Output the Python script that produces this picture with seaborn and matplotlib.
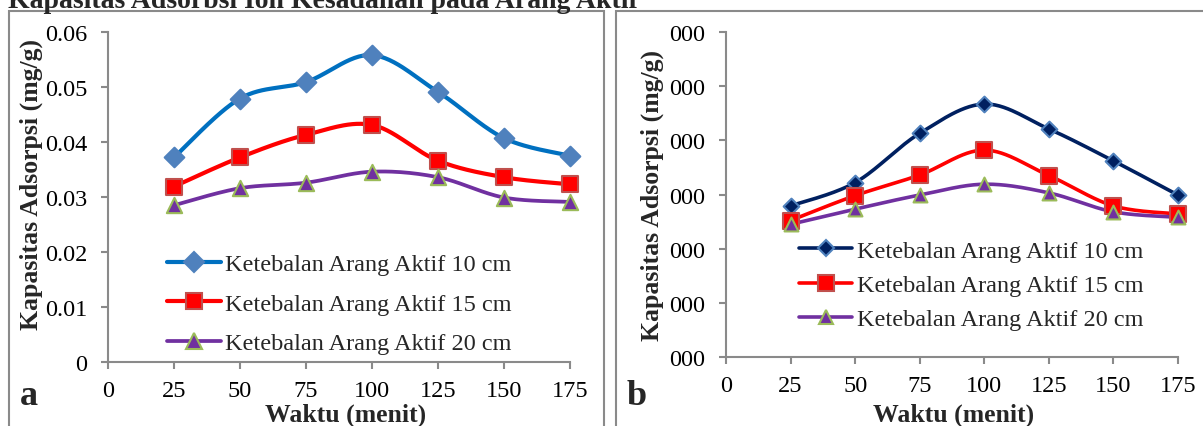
import numpy as np
import pandas as pd
import matplotlib
matplotlib.use("Agg")
import matplotlib.pyplot as plt
from matplotlib.lines import Line2D
from matplotlib.patches import Rectangle
import seaborn as sns

sns.set_theme(style="white")
plt.rcParams['font.family'] = ['Liberation Serif', 'DejaVu Serif']

# ---------------- data ----------------
waktu = [25, 50, 75, 100, 125, 150, 175]
labels = ["Ketebalan Arang Aktif 10 cm", "Ketebalan Arang Aktif 15 cm", "Ketebalan Arang Aktif 20 cm"]

a_10cm = [0.0372, 0.0479, 0.0509, 0.0558, 0.0491, 0.0407, 0.0375]
a_15cm = [0.0319, 0.0372, 0.0413, 0.0431, 0.0366, 0.0336, 0.0323]
a_20cm = [0.0285, 0.0316, 0.0326, 0.0346, 0.0336, 0.0299, 0.0291]

b_10cm = [2.79, 3.22, 4.13, 4.67, 4.21, 3.62, 2.99]
b_15cm = [2.52, 2.98, 3.36, 3.82, 3.35, 2.79, 2.64]
b_20cm = [2.45, 2.73, 2.99, 3.19, 3.03, 2.68, 2.58]

a_yticks = [0, 0.01, 0.02, 0.03, 0.04, 0.05, 0.06]
a_yticklabels = ["0", "0.01", "0.02", "0.03", "0.04", "0.05", "0.06"]
b_yticks = [0, 1, 2, 3, 4, 5, 6]
b_yticklabels = ["000", "000", "000", "000", "000", "000", "000"]
xticks = [0, 25, 50, 75, 100, 125, 150, 175]

title = "Kapasitas Adsorbsi Ion Kesadahan pada Arang Aktif"
ylabel = "Kapasitas Adsorpsi (mg/g)"
xlabel = "Waktu (menit)"


def smooth(x, y, n=30):
    """Excel-like smoothed line (Catmull-Rom style cubic Bezier)."""
    x = np.asarray(x, float)
    y = np.asarray(y, float)
    px, py = [], []
    m = len(x)
    for i in range(m - 1):
        x0, y0 = (x[i - 1], y[i - 1]) if i > 0 else (x[i], y[i])
        x3, y3 = (x[i + 2], y[i + 2]) if i + 2 < m else (x[i + 1], y[i + 1])
        p1 = np.array([x[i], y[i]])
        p2 = np.array([x[i + 1], y[i + 1]])
        c1 = p1 + (p2 - np.array([x0, y0])) / 6.0
        c2 = p2 - (np.array([x3, y3]) - p1) / 6.0
        t = np.linspace(0, 1, n, endpoint=(i == m - 2))
        b = ((1 - t) ** 3)[:, None] * p1 + (3 * (1 - t) ** 2 * t)[:, None] * c1 \
            + (3 * (1 - t) * t ** 2)[:, None] * c2 + (t ** 3)[:, None] * p2
        px.extend(b[:, 0])
        py.extend(b[:, 1])
    return np.array(px), np.array(py)


W, H = 1203, 427
fig = plt.figure(figsize=(W / 100, H / 100), dpi=100)

GRAY = "#8a8a8a"
FS = 17.5
LFS = 18.5

# panel frames
fig.patches.append(Rectangle((8.5 / W, -0.05), (604 - 8.5) / W, 1.05 - 12 / H,
                             transform=fig.transFigure, fill=False, edgecolor=GRAY, lw=1.5))
fig.patches.append(Rectangle((616 / W, -0.05), 0.5, 1.05 - 12 / H,
                             transform=fig.transFigure, fill=False, edgecolor=GRAY, lw=1.5))

fig.text(8 / W, 1 - 8 / H, title, fontsize=20, fontweight="bold", va="baseline", ha="left")

ax_a = fig.add_axes([108 / W, (H - 363) / H, 462 / W, 330 / H])
ax_b = fig.add_axes([726 / W, (H - 358) / H, 452 / W, 325 / H])

styles_a = [
    dict(line="#0070C0", lw=3.0, marker="D", ms=10, mfc="#4F81BD", mec="#4F81BD"),
    dict(line="#FF0000", lw=3.0, marker="s", ms=11, mfc="#FF0000", mec="#C0504D"),
    dict(line="#7030A0", lw=2.7, marker="^", ms=11, mfc="#7030A0", mec="#9BBB59"),
]
styles_b = [
    dict(line="#002060", lw=2.6, marker="D", ms=8, mfc="#002060", mec="#4F81BD"),
    dict(line="#FF0000", lw=2.6, marker="s", ms=11, mfc="#FF0000", mec="#C0504D"),
    dict(line="#7030A0", lw=2.6, marker="^", ms=10, mfc="#7030A0", mec="#9BBB59"),
]


def draw(ax, series, styles, yticks, yticklabels, leg_anchor, labelspacing):
    for vals, st in zip(series, styles):
        sx, sy = smooth(waktu, vals)
        sns.lineplot(x=sx, y=sy, ax=ax, color=st["line"], linewidth=st["lw"],
                     sort=False, estimator=None, zorder=2)
        sns.scatterplot(x=waktu, y=vals, ax=ax, marker=st["marker"], s=st["ms"] ** 2,
                        color=st["mfc"], edgecolor=st["mec"], linewidth=1.5, zorder=3,
                        clip_on=False)
    ax.set_xlim(0, 175)
    ax.set_ylim(yticks[0], yticks[-1])
    ax.set_xticks(xticks)
    ax.set_xticklabels([str(v) for v in xticks])
    ax.set_yticks(yticks)
    ax.set_yticklabels(yticklabels)
    for s in ["top", "right"]:
        ax.spines[s].set_visible(False)
    for s in ["left", "bottom"]:
        ax.spines[s].set_color(GRAY)
        ax.spines[s].set_linewidth(1.5)
    ax.tick_params(axis="both", direction="out", length=5, width=1.5, color=GRAY,
                   labelsize=FS, labelcolor="black", left=True, bottom=True)
    ax.tick_params(axis="x", pad=8)
    ax.tick_params(axis="y", pad=10)
    ax.set_facecolor("none")
    handles = [Line2D([0], [0], color=st["line"], lw=st["lw"], marker=st["marker"],
                      markersize=st["ms"], markerfacecolor=st["mfc"],
                      markeredgecolor=st["mec"], markeredgewidth=1.5) for st in styles]
    ax.legend(handles, labels, loc="center left", bbox_to_anchor=leg_anchor,
              frameon=False, fontsize=FS, handlelength=2.2, handletextpad=0.2,
              labelspacing=labelspacing, borderpad=0, borderaxespad=0)


draw(ax_a, [a_10cm, a_15cm, a_20cm], styles_a, a_yticks, a_yticklabels, (0.128, 0.176), 0.72)
draw(ax_b, [b_10cm, b_15cm, b_20cm], styles_b, b_yticks, b_yticklabels, (0.1615, 0.2215), 0.5)

# axis labels
ax_a.set_ylabel(ylabel, fontsize=LFS, fontweight="bold")
ax_a.yaxis.set_label_coords((31 - 108) / 462, 0.542)
ax_b.set_ylabel(ylabel, fontsize=LFS, fontweight="bold")
ax_b.yaxis.set_label_coords((652 - 726) / 452, 0.5)
ax_a.set_xlabel(xlabel, fontsize=LFS, fontweight="bold")
ax_a.xaxis.set_label_coords((346 - 108) / 462, (363 - 415) / 330)
ax_b.set_xlabel(xlabel, fontsize=LFS, fontweight="bold")
ax_b.xaxis.set_label_coords((954 - 726) / 452, (358 - 415) / 325)
for ax in (ax_a, ax_b):
    ax.xaxis.label.set_va("center")
    ax.yaxis.label.set_va("center")

fig.text(20 / W, 1 - 405 / H, "a", fontsize=26, fontweight="bold", va="baseline", ha="left")
fig.text(627 / W, 1 - 405 / H, "b", fontsize=26, fontweight="bold", va="baseline", ha="left")

fig.savefig("out.png", dpi=100)
